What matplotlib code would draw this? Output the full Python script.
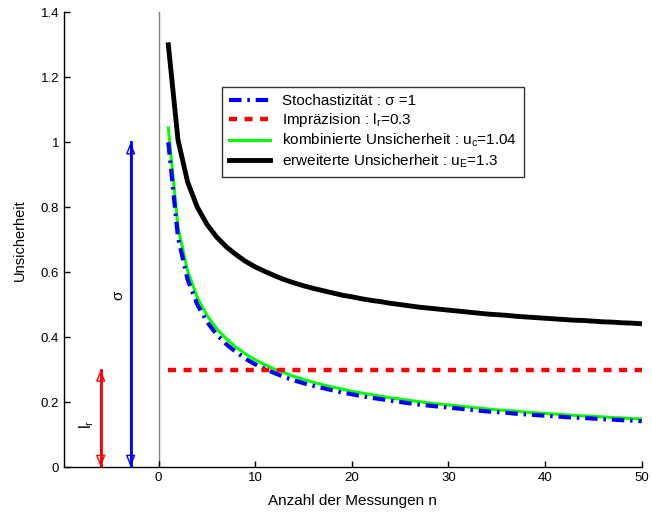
import matplotlib
matplotlib.use("Agg")
import matplotlib.pyplot as plt

plt.rcParams['font.family'] = ['Liberation Sans', 'DejaVu Sans']
plt.rcParams['mathtext.fontset'] = 'custom'
plt.rcParams['mathtext.rm'] = 'Liberation Sans'
plt.rcParams['mathtext.it'] = 'Liberation Sans'

n = list(range(1, 51))
stochastik = [1.000, 0.707, 0.577, 0.500, 0.447, 0.408, 0.378, 0.354, 0.333, 0.316,
              0.302, 0.289, 0.277, 0.267, 0.258, 0.250, 0.243, 0.236, 0.229, 0.224,
              0.218, 0.213, 0.209, 0.204, 0.200, 0.196, 0.192, 0.189, 0.186, 0.183,
              0.180, 0.177, 0.174, 0.171, 0.169, 0.167, 0.164, 0.162, 0.160, 0.158,
              0.156, 0.154, 0.152, 0.151, 0.149, 0.147, 0.146, 0.144, 0.143, 0.141]
impraezision = [0.3] * 50
kombiniert = [1.044, 0.738, 0.603, 0.522, 0.467, 0.426, 0.395, 0.369, 0.348, 0.330,
              0.315, 0.301, 0.290, 0.279, 0.270, 0.261, 0.253, 0.246, 0.240, 0.233,
              0.228, 0.223, 0.218, 0.213, 0.209, 0.205, 0.201, 0.197, 0.194, 0.191,
              0.188, 0.185, 0.182, 0.179, 0.176, 0.174, 0.172, 0.169, 0.167, 0.165,
              0.163, 0.161, 0.159, 0.157, 0.156, 0.154, 0.152, 0.151, 0.149, 0.148]
erweitert = [1.300, 1.007, 0.877, 0.800, 0.747, 0.708, 0.678, 0.654, 0.633, 0.616,
             0.602, 0.589, 0.577, 0.567, 0.558, 0.550, 0.543, 0.536, 0.529, 0.524,
             0.518, 0.513, 0.509, 0.504, 0.500, 0.496, 0.492, 0.489, 0.486, 0.483,
             0.480, 0.477, 0.474, 0.471, 0.469, 0.467, 0.464, 0.462, 0.460, 0.458,
             0.456, 0.454, 0.452, 0.451, 0.449, 0.447, 0.446, 0.444, 0.443, 0.441]

sigma = 1.0
l_r = 0.3
x_ticks = [0, 10, 20, 30, 40, 50]
y_ticks = [0, 0.2, 0.4, 0.6, 0.8, 1.0, 1.2, 1.4]
y_ticklabels = ['0', '0.2', '0.4', '0.6', '0.8', '1', '1.2', '1.4']

fig = plt.figure(figsize=(6.52, 5.13), dpi=100)
ax = fig.add_axes([64/652, 1-467/513, (641.7-64)/652, (467-12.3)/513])

ax.plot([0, 0], [0, 1.4], color='#808080', lw=1.0, zorder=1)

ax.plot(n, stochastik, color='#0000ff', lw=3, ls=(0, (3.0, 1.4, 0.6, 1.4)), label='Stochastizität : σ =1', zorder=3)
ax.plot(n, impraezision, color='#ff0000', lw=3.2, ls=(0, (1.8, 1.7)), label='Impräzision : $\\mathregular{l_r}$=0.3', zorder=3)
ax.plot(n, kombiniert, color='#00ff00', lw=2.2, ls='-', label='kombinierte Unsicherheit : $\\mathregular{u_c}$=1.04', zorder=2)
ax.plot(n, erweitert, color='#000000', lw=3.5, ls='-', label='erweiterte Unsicherheit : $\\mathregular{u_E}$=1.3', zorder=3)

# double arrows
for xa, ya, col in [(-6, l_r, '#ff0000'), (-2.9, sigma, '#0000ff')]:
    ax.plot([xa, xa], [0, ya], color=col, lw=2, zorder=2)
    ax.annotate('', xy=(xa, ya), xytext=(xa, 0),
                arrowprops=dict(arrowstyle='<|-|>,head_width=0.28,head_length=0.7',
                                edgecolor=col, facecolor='none', lw=1.0,
                                shrinkA=0, shrinkB=0))

ax.text(-4.2, 0.53, 'σ', rotation=90, ha='center', va='center', fontsize=11)
ax.text(-7.5, 0.13, '$\\mathregular{l_r}$', rotation=90, ha='center', va='center', fontsize=11.5)

ax.set_xlim(-9.8, 50)
ax.set_ylim(0, 1.4)
ax.set_xticks(x_ticks)
ax.set_yticks(y_ticks)
ax.set_yticklabels(y_ticklabels)
ax.tick_params(direction='in', length=4, labelsize=9.5, width=1)
for s in ['top', 'right']:
    ax.spines[s].set_visible(False)
for s in ['left', 'bottom']:
    ax.spines[s].set_linewidth(1)

ax.set_xlabel('Anzahl der Messungen n', fontsize=11, labelpad=7)
ax.set_ylabel('Unsicherheit', fontsize=10.5, labelpad=10)

leg = ax.legend(loc='upper left', bbox_to_anchor=(222/652, 1-87/513), bbox_transform=fig.transFigure,
                fontsize=11, frameon=True, fancybox=False, borderaxespad=0,
                handlelength=2.7, handletextpad=0.8, labelspacing=0.2, borderpad=0.45)
leg.get_frame().set_edgecolor('black')
leg.get_frame().set_linewidth(1)

fig.savefig('out.png', dpi=100)
